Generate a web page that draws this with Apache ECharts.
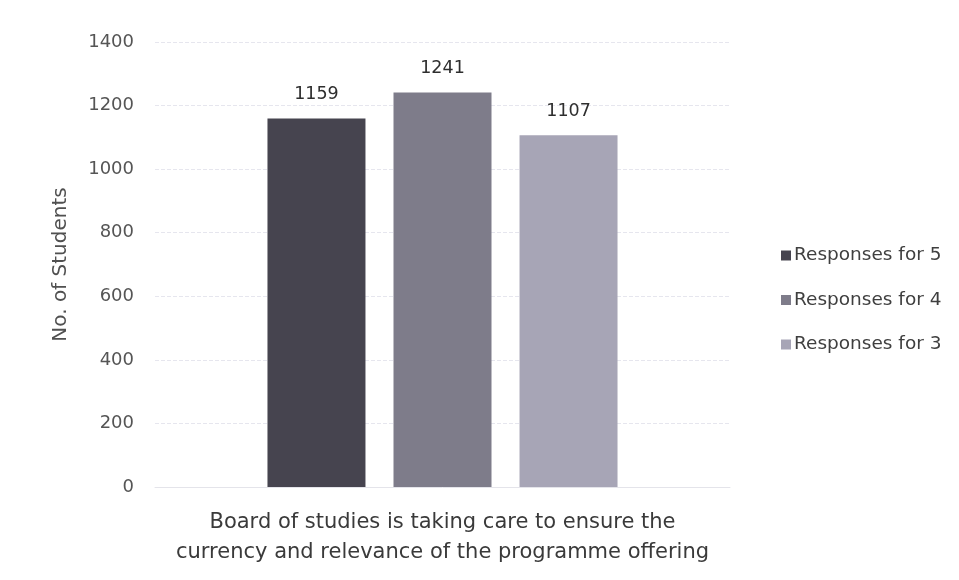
<!DOCTYPE html>
<html>
<head>
<meta charset="utf-8">
<script src="https://cdn.jsdelivr.net/npm/echarts@6/dist/echarts.min.js"></script>
<style>html,body{margin:0;padding:0;background:#fff}#c{width:959px;height:580px}</style>
</head>
<body>
<div id="c"></div>
<script>
var categories = ["Board of studies is taking care to ensure the\ncurrency and relevance of the programme offering"];
var seriesNames = ["Responses for 5", "Responses for 4", "Responses for 3"];
var values5 = [1159];
var values4 = [1241];
var values3 = [1107];
var yTicks = [0, 200, 400, 600, 800, 1000, 1200, 1400];

var colors = ["#46444f", "#7e7c8a", "#a7a5b6"];
var font = "'DejaVu Sans', sans-serif";
var chart = echarts.init(document.getElementById('c'));
var allVals = [values5, values4, values3];
chart.setOption({
  animation: false,
  backgroundColor: '#fff',
  grid: {left: 155, right: 229, top: 42, bottom: 93},
  legend: {
    orient: 'vertical', left: 776, top: 241, itemWidth: 10, itemHeight: 10, itemGap: 25.5,
    icon: 'rect',
    textStyle: {fontFamily: font, fontSize: 18.5, color: '#3f3f3f', padding: [0,0,0,-2]},
    data: seriesNames
  },
  xAxis: {
    type: 'category', data: categories,
    axisLine: {show: true, lineStyle: {color: '#e4e4ea'}},
    axisTick: {show: false},
    axisLabel: {fontFamily: font, fontSize: 21, color: '#3a3a3a', lineHeight: 30, margin: 21}
  },
  yAxis: {
    type: 'value', min: yTicks[0], max: yTicks[yTicks.length-1], interval: 200,
    name: 'No. of Students', nameLocation: 'middle', nameGap: 84, nameRotate: 90,
    nameTextStyle: {fontFamily: font, fontSize: 20, color: '#505050'},
    axisLine: {show: false}, axisTick: {show: false},
    axisLabel: {fontFamily: font, fontSize: 18, color: '#555', margin: 21, formatter: function(v){ return String(v); }},
    splitLine: {lineStyle: {color: '#e6e6ee', type: 'dashed'}}
  },
  series: seriesNames.map(function(n, i){
    return {
      name: n, type: 'bar', data: allVals[i], barWidth: 98, barGap: '28.6%',
      itemStyle: {color: colors[i]},
      label: {show: true, position: 'top', distance: 15, fontFamily: font, fontSize: 17.5, color: '#2e2e2e'}
    };
  })
});
</script>
</body>
</html>
